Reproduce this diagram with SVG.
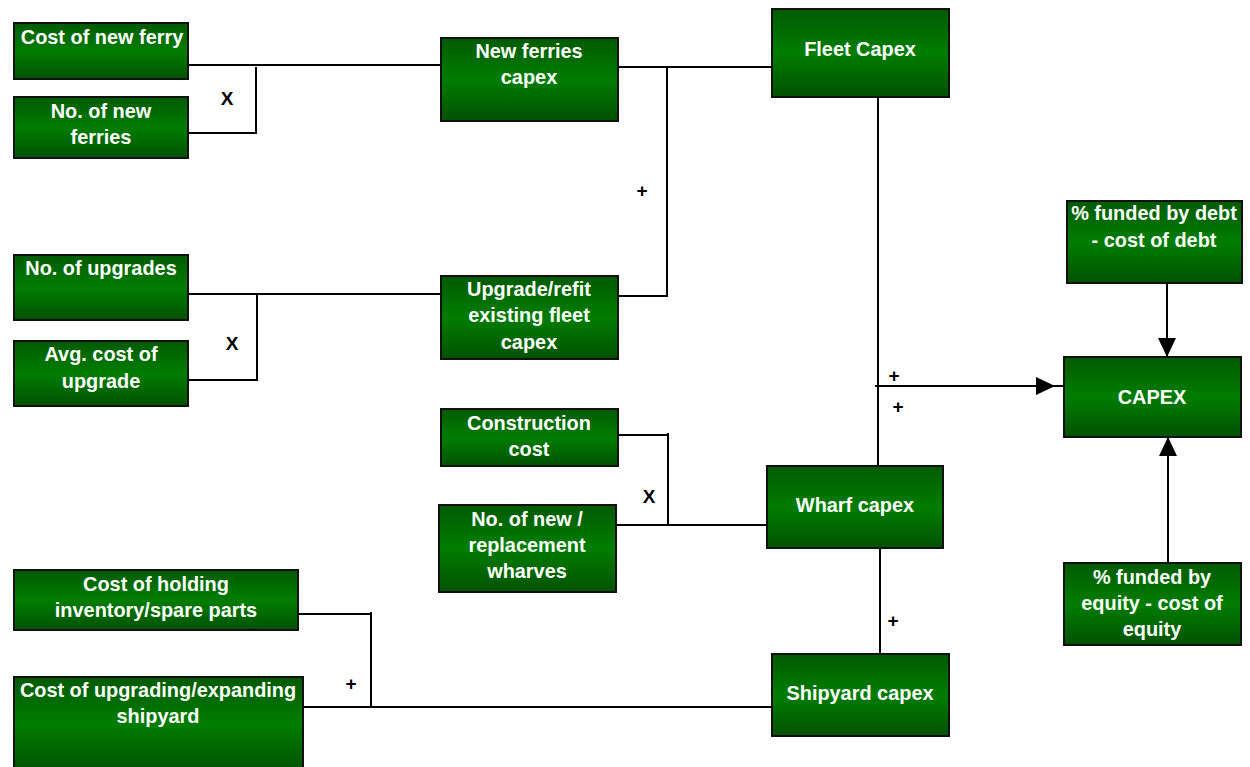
<svg xmlns="http://www.w3.org/2000/svg" width="1250" height="767" viewBox="0 0 1250 767">
<style>
.box{fill:url(#g);stroke:#111;stroke-width:2}
.t{font-family:"Liberation Sans",Arial,sans-serif;font-weight:bold;font-size:19.9px;fill:#fff;text-anchor:middle}
.op{font-family:"Liberation Sans",Arial,sans-serif;font-weight:bold;font-size:19px;fill:#000;text-anchor:middle}
.c{fill:none;stroke:#000;stroke-width:2}
</style>
<defs>
<linearGradient id="g" x1="0" y1="0" x2="0" y2="1">
<stop offset="0" stop-color="#005a00"/>
<stop offset="0.5" stop-color="#007d00"/>
<stop offset="1" stop-color="#005200"/>
</linearGradient>
<marker id="ah" markerUnits="userSpaceOnUse" viewBox="0 0 19 18" markerWidth="19" markerHeight="18" refX="19" refY="9" orient="auto">
<path d="M0,0 L19,9 L0,18 z" fill="#000"/>
</marker>
</defs>
<rect width="1250" height="767" fill="#fff"/>
<g id="connectors">
<path class="c" d="M188,65 H441"/>
<path class="c" d="M188,133 H257 M256,67 V133"/>
<path class="c" d="M618,67 H772"/>
<path class="c" d="M618,296 H667 V68"/>
<path class="c" d="M188,294 H441"/>
<path class="c" d="M188,380 H257 V295"/>
<path class="c" d="M878,97 V466"/>
<path class="c" d="M875,386 H1055" marker-end="url(#ah)"/>
<path class="c" d="M1055,386 H1064"/>
<path class="c" d="M618,435 H668 M668,433 V525"/>
<path class="c" d="M616,525 H767"/>
<path class="c" d="M880,548 V654"/>
<path class="c" d="M298,614 H371 M371,612 V707"/>
<path class="c" d="M303,707 H772"/>
<path class="c" d="M1167,283 V357" marker-end="url(#ah)"/>
<path class="c" d="M1168,563 V437" marker-end="url(#ah)"/>
<text class="op" x="227" y="105">X</text>
<text class="op" x="232" y="350">X</text>
<text class="op" x="649" y="503">X</text>
<text class="op" x="642" y="197">+</text>
<text class="op" x="894" y="382">+</text>
<text class="op" x="898" y="413">+</text>
<text class="op" x="893" y="627">+</text>
<text class="op" x="351" y="690">+</text>
</g>
<g id="n1"><rect class="box" x="14" y="23" width="174" height="56"/><text class="t" x="102" y="44">Cost of new ferry</text></g>
<g id="n2"><rect class="box" x="14" y="97" width="174" height="61"/><text class="t" x="101" y="118">No. of new</text><text class="t" x="101" y="144">ferries</text></g>
<g id="n3"><rect class="box" x="441" y="38" width="177" height="83"/><text class="t" x="529" y="58">New ferries</text><text class="t" x="529" y="84">capex</text></g>
<g id="n4"><rect class="box" x="772" y="9" width="177" height="88"/><text class="t" x="860" y="56">Fleet Capex</text></g>
<g id="n5"><rect class="box" x="14" y="255" width="174" height="65"/><text class="t" x="101" y="275">No. of upgrades</text></g>
<g id="n6"><rect class="box" x="14" y="341" width="174" height="65"/><text class="t" x="101" y="361">Avg. cost of</text><text class="t" x="101" y="388">upgrade</text></g>
<g id="n7"><rect class="box" x="441" y="276" width="177" height="83"/><text class="t" x="529" y="296">Upgrade/refit</text><text class="t" x="529" y="322">existing fleet</text><text class="t" x="529" y="349">capex</text></g>
<g id="n8"><rect class="box" x="441" y="409" width="177" height="57"/><text class="t" x="529" y="430">Construction</text><text class="t" x="529" y="456">cost</text></g>
<g id="n9"><rect class="box" x="439" y="505" width="177" height="87"/><text class="t" x="527" y="526">No. of new /</text><text class="t" x="527" y="552">replacement</text><text class="t" x="527" y="578">wharves</text></g>
<g id="n10"><rect class="box" x="767" y="466" width="176" height="82"/><text class="t" x="855" y="512">Wharf capex</text></g>
<g id="n11"><rect class="box" x="14" y="570" width="284" height="60"/><text class="t" x="156" y="591">Cost of holding</text><text class="t" x="156" y="617">inventory/spare parts</text></g>
<g id="n12"><rect class="box" x="14" y="677" width="289" height="95"/><text class="t" x="158" y="697">Cost of upgrading/expanding</text><text class="t" x="158" y="723">shipyard</text></g>
<g id="n13"><rect class="box" x="772" y="654" width="177" height="82"/><text class="t" x="860" y="700">Shipyard capex</text></g>
<g id="n14"><rect class="box" x="1067" y="201" width="175" height="82"/><text class="t" x="1154" y="220">% funded by debt</text><text class="t" x="1154" y="247">- cost of debt</text></g>
<g id="n15"><rect class="box" x="1064" y="357" width="177" height="80"/><text class="t" x="1152" y="404">CAPEX</text></g>
<g id="n16"><rect class="box" x="1064" y="563" width="177" height="82"/><text class="t" x="1152" y="584">% funded by</text><text class="t" x="1152" y="610">equity - cost of</text><text class="t" x="1152" y="636">equity</text></g>
</svg>
